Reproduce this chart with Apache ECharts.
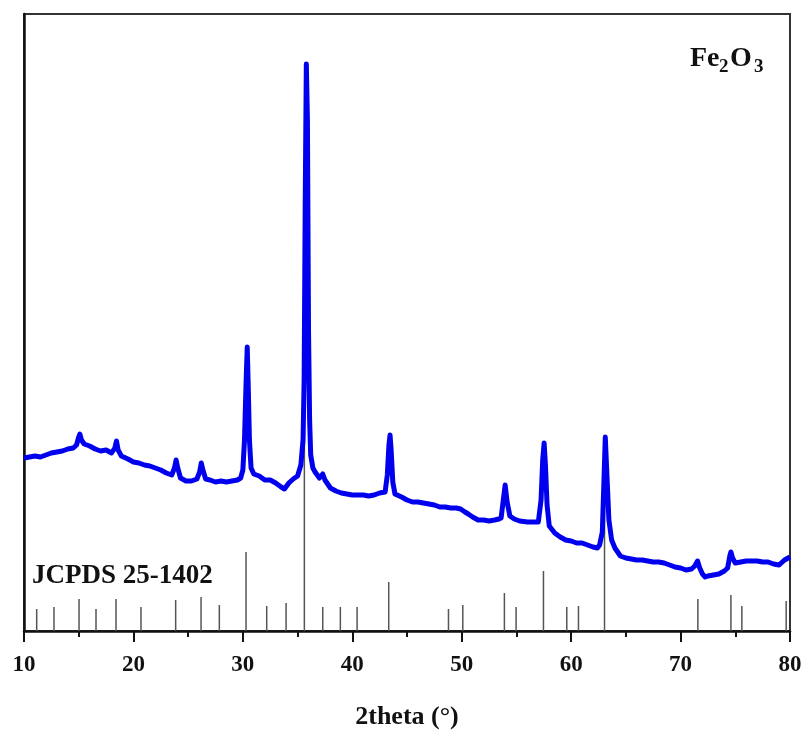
<!DOCTYPE html>
<html>
<head>
<meta charset="utf-8">
<script src="https://cdn.jsdelivr.net/npm/echarts@6/dist/echarts.min.js"></script>
<style>html,body{margin:0;padding:0;background:#fff;}#c{width:808px;height:735px;}</style>
</head>
<body>
<div id="c"></div>
<script>
// 2theta (deg) of measured pattern
const angles = [10.0,10.5,11.0,11.5,12.0,12.5,13.0,13.5,14.0,14.5,14.8,15.0,15.1,15.25,15.5,16.0,16.5,17.0,17.5,18.0,18.3,18.45,18.6,18.9,19.5,20.0,20.5,21.0,21.5,22.0,22.5,23.0,23.5,23.75,23.9,24.05,24.3,24.8,25.3,25.8,26.05,26.2,26.35,26.6,27.0,27.5,28.0,28.5,29.0,29.5,29.8,30.0,30.15,30.3,30.4,30.5,30.6,30.75,31.0,31.5,32.0,32.5,33.0,33.5,33.8,34.2,34.6,35.0,35.3,35.5,35.6,35.7,35.8,35.9,36.0,36.1,36.2,36.4,36.6,37.0,37.3,37.5,38.0,38.5,39.0,39.5,40.0,40.5,41.0,41.5,42.0,42.5,43.0,43.2,43.35,43.45,43.55,43.7,43.9,44.5,45.0,45.5,46.0,46.5,47.0,47.5,48.0,48.5,49.0,49.5,49.9,50.3,50.6,51.0,51.5,52.0,52.5,53.0,53.4,53.6,53.8,53.97,54.15,54.4,54.8,55.3,56.0,56.5,57.0,57.25,57.4,57.53,57.65,57.8,58.0,58.5,59.0,59.5,60.0,60.5,61.0,61.5,62.0,62.4,62.6,62.85,63.0,63.12,63.25,63.45,63.7,64.0,64.5,65.0,65.5,66.0,66.5,67.0,67.5,68.0,68.5,69.0,69.5,70.0,70.5,71.0,71.3,71.55,71.75,72.0,72.25,72.5,73.0,73.5,74.0,74.3,74.5,74.6,74.75,75.0,75.5,76.0,76.5,77.0,77.5,78.0,78.5,79.0,79.5,80.0];
// intensity (a.u.)
const intensities = [173,174,175,174,176,178,179,180,182,183,186,194,197,191,187,185,182,180,181,178,183,190,181,175,172,169,168,166,165,163,161,158,156,163,171,163,153,150,150,152,159,168,161,152,151,149,150,149,150,151,153,161,191,251,284,241,191,163,157,155,151,151,148,144,142,148,152,155,166,191,251,431,567,511,301,211,176,163,159,153,157,151,143,140,138,137,136,136,136,135,136,138,139,156,186,196,181,149,137,134,131,129,129,128,127,126,124,124,123,123,122,119,117,114,111,111,110,111,112,113,131,146,129,115,112,110,109,109,109,131,171,188,166,126,105,98,94,91,90,88,88,86,84,83,86,99,151,194,161,111,91,83,75,73,72,71,71,70,69,69,68,66,64,63,61,62,65,70,63,57,54,55,56,57,60,63,75,79,73,68,69,70,70,70,69,69,67,66,71,74];
// JCPDS 25-1402 reference lines
const refAngles = [11.16,12.74,15.03,16.58,18.41,20.69,23.86,26.18,27.85,30.29,32.18,33.95,35.62,37.3,38.91,40.44,43.33,48.79,50.1,53.9,54.97,57.47,59.6,60.67,63.05,71.58,74.6,75.6,79.65];
const refHeights = [22,24,32,22,32,24,31,34,26,79,25,28,233,24,24,24,49,22,26,38,24,60,24,25,150,32,36,25,30];
const xTicks = [10,20,30,40,50,60,70,80];

const curve = angles.map((a,i)=>[a,intensities[i]]);
const sticks = refAngles.map((a,i)=>[a,refHeights[i]]);

const chart = echarts.init(document.getElementById('c'));
const serif = 'Liberation Serif';
chart.setOption({
  animation:false,
  backgroundColor:'#fff',
  grid:{left:24,right:18,top:14,bottom:104,show:true,borderColor:'#333',borderWidth:2,backgroundColor:'transparent'},
  xAxis:{
    type:'value',min:xTicks[0],max:xTicks[xTicks.length-1],interval:10,
    name:'2theta (°)',nameLocation:'middle',nameGap:73,
    nameTextStyle:{fontFamily:serif,fontWeight:'bold',fontSize:26,color:'#111'},
    axisLine:{show:true,lineStyle:{color:'#111',width:2.5}},
    axisTick:{show:true,inside:false,length:11,lineStyle:{color:'#111',width:2}},
    minorTick:{show:true,splitNumber:2,length:6,lineStyle:{color:'#111',width:2}},
    splitLine:{show:false},
    axisLabel:{fontFamily:serif,fontWeight:'bold',fontSize:23,color:'#111',margin:23,showMinLabel:true,showMaxLabel:true}
  },
  yAxis:{
    type:'value',min:0,max:617,
    axisLine:{show:true,lineStyle:{color:'#111',width:2.5}},
    axisTick:{show:false},axisLabel:{show:false},splitLine:{show:false}
  },
  series:[
    {
      type:'custom',name:'JCPDS',z:1,
      data:sticks,
      renderItem:function(params,api){
        const p0 = api.coord([api.value(0),0]);
        const p1 = api.coord([api.value(0),api.value(1)]);
        return {type:'line',shape:{x1:p0[0],y1:p0[1],x2:p1[0],y2:p1[1]},style:{stroke:'#555',lineWidth:1.5}};
      }
    },
    {
      type:'line',name:'Fe2O3',z:3,data:curve,showSymbol:false,smooth:false,
      lineStyle:{color:'#0000ee',width:5,join:'round'},
      itemStyle:{color:'#0000ee'}
    }
  ],
  graphic:[
    {type:'text',left:690,top:45,style:{text:'Fe',font:'bold 28px "Liberation Serif"',fill:'#111'}},
    {type:'text',left:719,top:58,style:{text:'2',font:'bold 19px "Liberation Serif"',fill:'#111'}},
    {type:'text',left:730,top:45,style:{text:'O',font:'bold 28px "Liberation Serif"',fill:'#111'}},
    {type:'text',left:754,top:58,style:{text:'3',font:'bold 19px "Liberation Serif"',fill:'#111'}},
    {type:'text',left:32,top:563,style:{text:'JCPDS 25-1402',font:'bold 27px "Liberation Serif"',fill:'#111'}}
  ]
});
</script>
</body>
</html>
